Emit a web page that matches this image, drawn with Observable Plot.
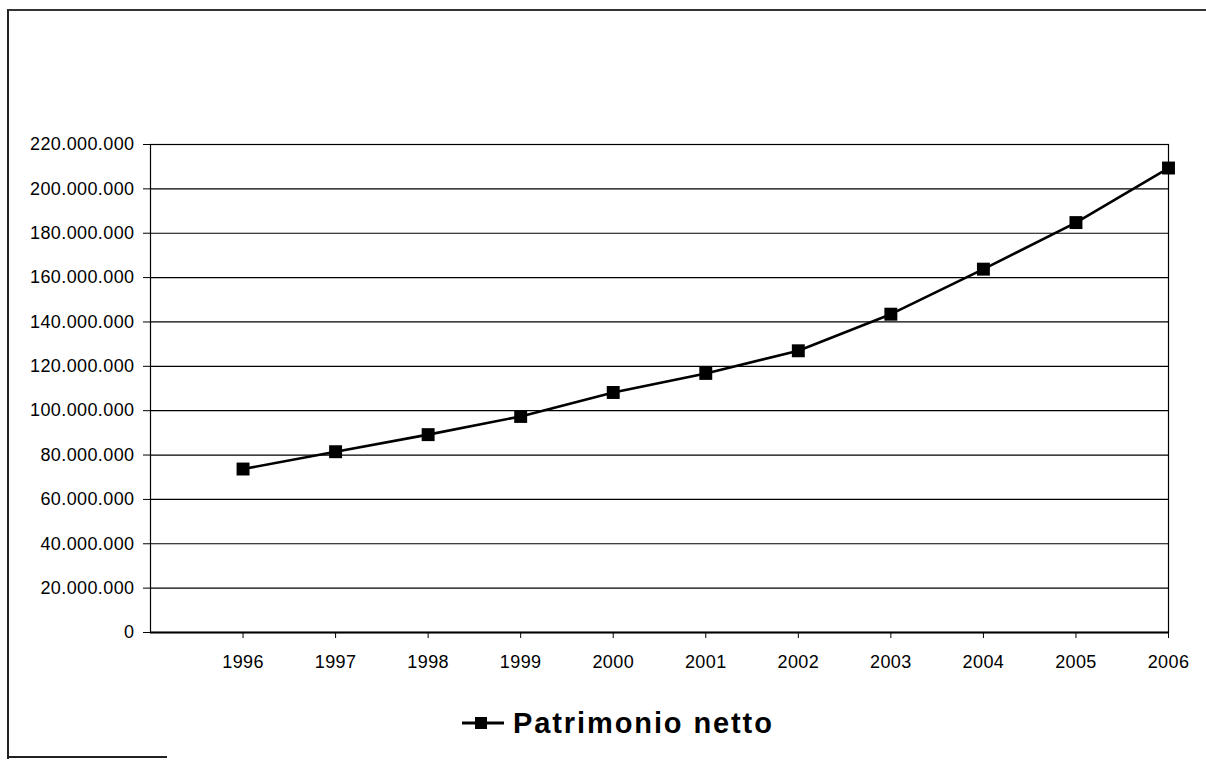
<!DOCTYPE html>
<html>
<head>
<meta charset="utf-8">
<script src="https://cdn.jsdelivr.net/npm/d3@7"></script>
<script src="https://cdn.jsdelivr.net/npm/@observablehq/plot@0.6"></script>
<style>
  html, body { margin: 0; padding: 0; background: #fff; }
  body { width: 1206px; height: 763px; position: relative; overflow: hidden; font-family: "Liberation Sans", Arial, sans-serif; }
  #chart { position: absolute; left: 0; top: 0; }
  #border { position: absolute; left: 7px; top: 9px; width: 1210px; height: 748px; border-left: 2px solid #222; border-top: 2px solid #333; }
  #borderBottom { position: absolute; left: 7px; top: 756px; width: 160px; height: 0; border-top: 2px solid #222; }
  #legend { position: absolute; left: 462px; top: 703px; height: 40px; display: flex; align-items: center; }
  #legend span { font-weight: bold; font-size: 29px; letter-spacing: 1.9px; color: #000; margin-left: 9px; }
</style>
</head>
<body>
<div id="border"></div>
<div id="borderBottom"></div>
<div id="chart"></div>
<div id="legend">
  <svg width="42" height="20" viewBox="0 0 42 20"><line x1="0" y1="10" x2="42" y2="10" stroke="#000" stroke-width="3"/><rect x="13" y="4" width="12" height="12" fill="#000"/></svg>
  <span>Patrimonio netto</span>
</div>
<script>
const years = [1996, 1997, 1998, 1999, 2000, 2001, 2002, 2003, 2004, 2005, 2006];
const values = [73700000, 81500000, 89200000, 97400000, 108200000, 116800000, 127000000, 143500000, 163800000, 184800000, 209400000];
const yTicks = [0, 20000000, 40000000, 60000000, 80000000, 100000000, 120000000, 140000000, 160000000, 180000000, 200000000, 220000000];
const seriesName = "Patrimonio netto";

const data = years.map((y, i) => ({year: y, value: values[i], series: seriesName}));
const fmt = v => d3.format(",")(v).replace(/,/g, ".");

const chart = Plot.plot({
  width: 1206,
  height: 700,
  marginLeft: 150,
  marginRight: 38,
  marginTop: 144,
  marginBottom: 68,
  style: {fontFamily: "'Liberation Sans', Arial, sans-serif", fontSize: "18px", color: "#000", background: "transparent", letterSpacing: "0.4px"},
  x: {type: "linear", domain: [1995, 2006]},
  y: {domain: [0, 220000000]},
  marks: [
    Plot.gridY(yTicks, {stroke: "#000", strokeOpacity: 1, strokeWidth: 1.2}),
    Plot.frame({stroke: "#000", strokeWidth: 1.2}),
    Plot.ruleY([0], {stroke: "#000", strokeWidth: 2.2}),
    Plot.axisY({ticks: yTicks, tickSize: 7, tickPadding: 9, tickFormat: fmt, label: null}),
    Plot.axisX({ticks: years, tickSize: 6, tickPadding: 17, tickFormat: d => String(d), label: null}),
    Plot.line(data, {x: "year", y: "value", stroke: "#000", strokeWidth: 2.6}),
    Plot.dot(data, {x: "year", y: "value", symbol: "square", fill: "#000", r: 7.3})
  ]
});
document.getElementById("chart").appendChild(chart);
</script>
</body>
</html>
